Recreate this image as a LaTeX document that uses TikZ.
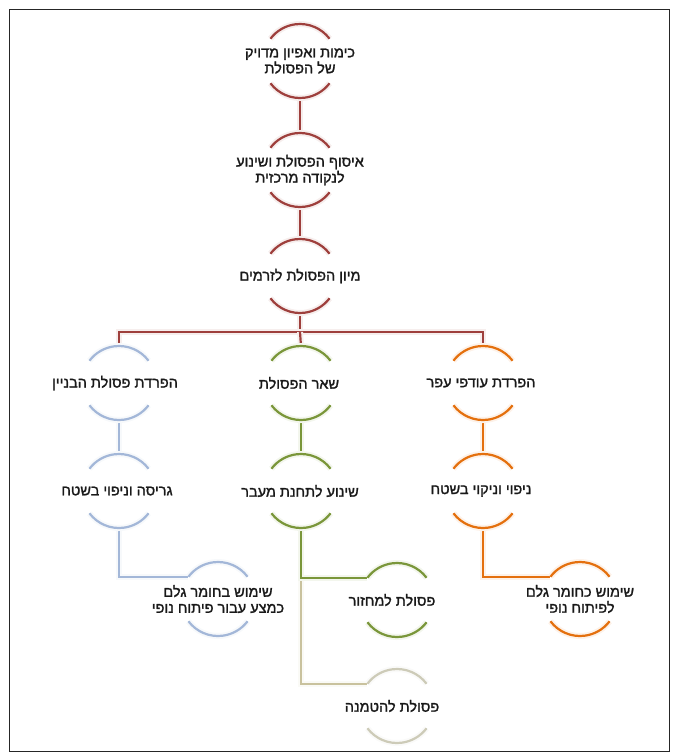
\documentclass[tikz,border=0pt]{standalone}
\usepackage{fontspec}
\setmainfont{Liberation Sans}
\newfontfamily\heb[Script=Hebrew,FakeBold=1.6]{Liberation Sans}
\TeXXeTstate=1
\definecolor{cred}{HTML}{9E3F3C}
\definecolor{cblue}{HTML}{A3B7D8}
\definecolor{cgreen}{HTML}{7A963A}
\definecolor{corange}{HTML}{E4700E}
\definecolor{ctan}{HTML}{C9C29E}
\definecolor{cgray}{HTML}{CDCBB8}
\newcommand\rtlline[1]{\beginR #1\endR}
\newcommand\nodearcs[2]{%
  \draw[ln=#2] ([shift={(37:37pt)}]#1.center) arc[start angle=37,end angle=143,radius=37pt];
  \draw[ln=#2] ([shift={(217:37pt)}]#1.center) arc[start angle=217,end angle=323,radius=37pt];}
\tikzset{
  lbl/.style={font=\heb\fontsize{14.5}{16}\selectfont, align=center, inner sep=0pt, text=black!90},
  ln/.style={draw=#1, line width=2.2pt, preaction={draw=#1!9, line width=6pt}},
}
\begin{document}
\begin{tikzpicture}[x=1pt,y=-1pt]
\useasboundingbox (0,0) rectangle (678,755);
\draw[line width=1pt, black!85] (9,9) rectangle (669,751);

\node[lbl] (t1) at (300,61) {\rtlline{כימות ואפיון מדויק}\\\rtlline{של הפסולת}};
\node[lbl] (t2) at (300,170) {\rtlline{איסוף הפסולת ושינוע}\\\rtlline{לנקודה מרכזית}};
\node[lbl] (t3) at (300,276) {\rtlline{מיון הפסולת לזרמים}};
\node[lbl] (t4) at (115,383) {\rtlline{הפרדת פסולת הבניין}};
\node[lbl] (t5) at (299,383) {\rtlline{שאר הפסולת}};
\node[lbl] (t6) at (481,383) {\rtlline{הפרדת עודפי עפר}};
\node[lbl] (t7) at (117,491) {\rtlline{גריסה וניפוי בשטח}};
\node[lbl] (t8) at (300,491) {\rtlline{שינוע לתחנת מעבר}};
\node[lbl] (t9) at (481,491) {\rtlline{ניפוי וניקוי בשטח}};
\node[lbl] (t10) at (218,599) {\rtlline{שימוש בחומר גלם}\\\rtlline{כמצע עבור פיתוח נופי}};
\node[lbl] (t11) at (392,600) {\rtlline{פסולת למחזור}};
\node[lbl] (t12) at (580,599) {\rtlline{שימוש כחומר גלם}\\\rtlline{לפיתוח נופי}};
\node[lbl] (t13) at (392,706) {\rtlline{פסולת להטמנה}};

\coordinate (c4) at (119,383);
\coordinate (c5) at (301,383);
\coordinate (c6) at (483,383);
\coordinate (c7) at (119,491);
\coordinate (c8) at (301,491);
\coordinate (c9) at (483,491);
\coordinate (c11) at (397,600);
\coordinate (c13) at (397,706);
\coordinate (bus) at (300,332);
\coordinate (g10) at ([shift={(143:37pt)}]t10.center);
\coordinate (g11) at ([shift={(143:37pt)}]c11);
\coordinate (g12) at ([shift={(143:37pt)}]t12.center);
\coordinate (g13) at ([shift={(143:37pt)}]c13);

% connectors
\draw[ln=cred] ([yshift=-37pt]t1.center) -- ([yshift=37pt]t2.center);
\draw[ln=cred] ([yshift=-37pt]t2.center) -- ([yshift=37pt]t3.center);
\draw[ln=cred] ([yshift=-37pt]t3.center) -- (bus);
\draw[ln=cred] (bus) -| ([yshift=37pt]c4);
\draw[ln=cred] (bus) -| ([yshift=37pt]c6);
\draw[ln=cred] (bus) -- ([yshift=37pt]c5);
\draw[ln=cblue] ([yshift=-37pt]c4) -- ([yshift=37pt]c7);
\draw[ln=cgreen] ([yshift=-37pt]c5) -- ([yshift=37pt]c8);
\draw[ln=corange] ([yshift=-37pt]c6) -- ([yshift=37pt]c9);
\draw[ln=cblue] ([yshift=-37pt]c7) |- (g10);
\draw[ln=ctan] (c8 |- g11) |- (g13);
\draw[ln=cgreen] ([yshift=-37pt]c8) |- (g11);
\draw[ln=corange] ([yshift=-37pt]c9) |- (g12);

% arcs
\nodearcs{t1}{cred}
\nodearcs{t2}{cred}
\nodearcs{t3}{cred}
\nodearcs{c4}{cblue}
\nodearcs{c5}{cgreen}
\nodearcs{c6}{corange}
\nodearcs{c7}{cblue}
\nodearcs{c8}{cgreen}
\nodearcs{c9}{corange}
\nodearcs{t10}{cblue}
\nodearcs{c11}{cgreen}
\nodearcs{t12}{corange}
\nodearcs{c13}{cgray}
\end{tikzpicture}
\end{document}
